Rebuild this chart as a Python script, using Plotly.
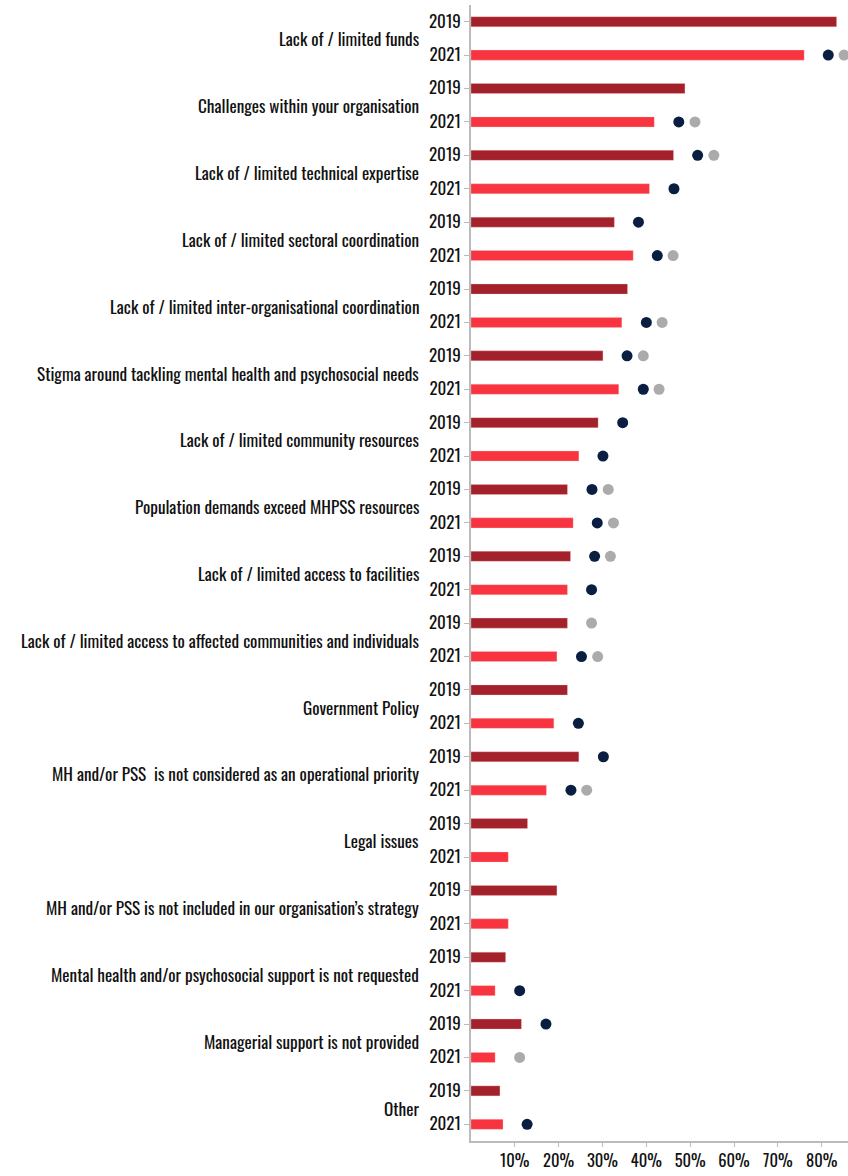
import plotly.graph_objects as go

categories = [
    "Lack of / limited funds",
    "Challenges within your organisation",
    "Lack of / limited technical expertise",
    "Lack of / limited sectoral coordination",
    "Lack of / limited inter-organisational coordination",
    "Stigma around tackling mental health and psychosocial needs",
    "Lack of / limited community resources",
    "Population demands exceed MHPSS resources",
    "Lack of / limited access to facilities",
    "Lack of / limited access to affected communities and individuals",
    "Government Policy",
    "MH and/or PSS  is not considered as an operational priority",
    "Legal issues",
    "MH and/or PSS is not included in our organisation\u2019s strategy",
    "Mental health and/or psychosocial support is not requested",
    "Managerial support is not provided",
    "Other",
]
years = ["2019", "2021"]
values_2019 = [83.4, 48.8, 46.2, 32.7, 35.7, 30.1, 29.0, 22.0, 22.7, 22.0, 22.0, 24.6, 12.9, 19.6, 7.9, 11.5, 6.6]
values_2021 = [76.0, 41.8, 40.7, 37.0, 34.4, 33.7, 24.6, 23.3, 22.0, 19.6, 18.9, 17.2, 8.5, 8.5, 5.5, 5.5, 7.3]
navy_2019 = [None, None, 51.7, 38.2, None, 35.6, 34.6, 27.6, 28.2, None, None, 30.2, None, None, None, 17.1, None]
gray_2019 = [None, None, 55.4, None, None, 39.3, None, 31.3, 31.8, 27.5, None, None, None, None, None, None, None]
navy_2021 = [81.5, 47.4, 46.3, 42.5, 40.0, 39.3, 30.1, 28.8, 27.5, 25.2, 24.5, 22.8, None, None, 11.1, None, 12.8]
gray_2021 = [85.1, 51.1, None, 46.1, 43.6, 42.9, None, 32.5, None, 28.9, None, 26.4, None, None, None, 11.1, None]
x_ticks = [10, 20, 30, 40, 50, 60, 70, 80]

FONT = "Oswald, 'Roboto Condensed', 'Liberation Sans Narrow', 'DejaVu Sans Condensed', 'Noto Sans', sans-serif"
C2019 = "#A3212B"
C2021 = "#F7343F"
NAVY = "#0A1E42"
GRAY = "#ABABAB"

n = len(categories)
y19 = [2 * i for i in range(n)]
y21 = [2 * i + 1 for i in range(n)]

fig = go.Figure()
fig.add_trace(go.Bar(x=values_2019, y=y19, orientation="h", width=0.3,
                     marker=dict(color=C2019, line=dict(color="rgba(255,200,200,0.6)", width=0.5)),
                     showlegend=False))
fig.add_trace(go.Bar(x=values_2021, y=y21, orientation="h", width=0.3,
                     marker=dict(color=C2021, line=dict(color="rgba(255,200,200,0.6)", width=0.5)),
                     showlegend=False))
for xs, ys, col in [(navy_2019, y19, NAVY), (gray_2019, y19, GRAY),
                    (navy_2021, y21, NAVY), (gray_2021, y21, GRAY)]:
    fig.add_trace(go.Scatter(x=xs, y=ys, mode="markers",
                             marker=dict(color=col, size=11, line=dict(width=0)),
                             showlegend=False))

for i, c in enumerate(categories):
    fig.add_annotation(text=c, x=0, xref="paper", y=2 * i + 0.5, yref="y",
                       xanchor="right", yanchor="middle", xshift=-50, showarrow=False,
                       font=dict(family=FONT, size=17.2, color="#111111"))

fig.update_layout(
    width=848, height=1176,
    margin=dict(l=471, r=0, t=5, b=35),
    paper_bgcolor="white", plot_bgcolor="white",
    barmode="overlay",
    font=dict(family=FONT, size=16, color="#111111"),
)
fig.update_xaxes(range=[0, 86], tickvals=x_ticks, ticktext=[f"{v}%" for v in x_ticks],
                 showgrid=False, zeroline=False, showline=True, linecolor="#BBBBBB", linewidth=1.5,
                 ticks="outside", ticklen=4, tickcolor="#BBBBBB", automargin=False,
                 tickfont=dict(family=FONT, size=16.5, color="#111111"))
fig.update_yaxes(range=[2 * n - 0.5, -0.5], tickvals=y19 + y21,
                 ticktext=[years[0]] * n + [years[1]] * n,
                 showgrid=False, zeroline=False, showline=True, linecolor="#BBBBBB", linewidth=1.5,
                 ticks="outside", ticklen=5, tickcolor="#BBBBBB", automargin=False,
                 tickfont=dict(family=FONT, size=17, color="#111111"))

fig.write_html("out.html", config={"displayModeBar": False},
               post_script="document.body.style.margin='0';document.body.style.padding='0';")
